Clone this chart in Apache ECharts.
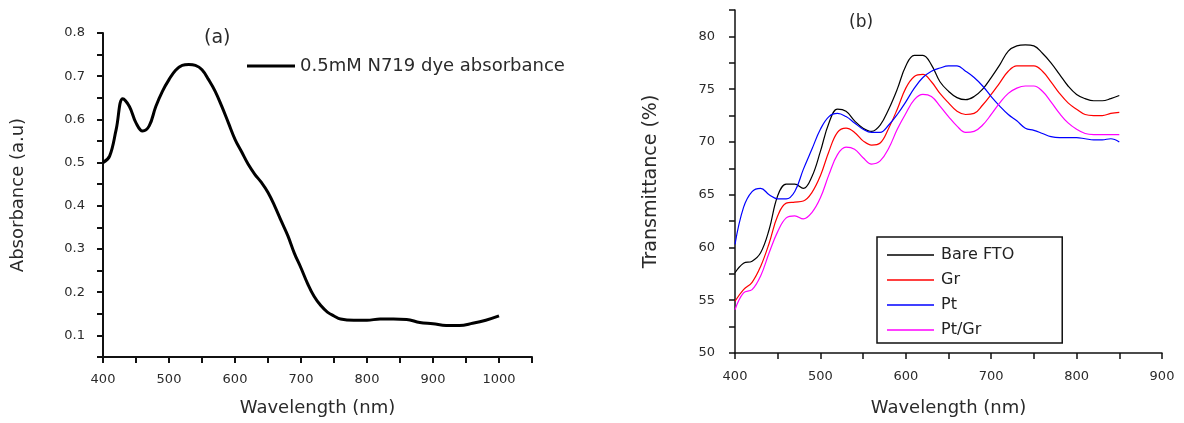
<!DOCTYPE html>
<html>
<head>
<meta charset="utf-8">
<script src="https://cdn.jsdelivr.net/npm/echarts@6/dist/echarts.min.js"></script>
<style>
  body { margin: 0; background: #fff; }
  #chart { width: 1184px; height: 423px; }
</style>
</head>
<body>
<div id="chart"></div>
<script>
// (a) dye absorbance
const wavelengthA = [400,410,420,430,440,450,460,470,480,490,500,510,520,530,540,550,560,570,580,590,600,610,620,630,640,650,660,670,680,690,700,710,720,730,740,750,760,780,800,820,840,860,880,900,920,940,960,980,1000];
const absorbance = [0.50,0.515,0.577,0.648,0.63,0.592,0.573,0.585,0.63,0.665,0.692,0.714,0.725,0.727,0.725,0.715,0.692,0.665,0.63,0.592,0.554,0.525,0.496,0.473,0.454,0.431,0.40,0.365,0.331,0.29,0.256,0.22,0.19,0.169,0.154,0.145,0.138,0.135,0.135,0.138,0.138,0.137,0.13,0.127,0.123,0.123,0.128,0.135,0.145];

// (b) transmittance, 400..850 nm every 10 nm
const wavelengthB = [400,410,420,430,440,450,460,470,480,490,500,510,520,530,540,550,560,570,580,590,600,610,620,630,640,650,660,670,680,690,700,710,720,730,740,750,760,770,780,790,800,810,820,830,840,850];
const bareFto = [57.6,58.5,58.7,59.5,61.7,64.9,66.0,66.0,65.6,66.7,69.1,71.8,73.1,72.9,72.0,71.3,71.0,71.6,73.1,75.0,77.2,78.2,78.2,77.3,75.7,74.8,74.2,74.0,74.3,75.0,76.1,77.3,78.6,79.1,79.2,79.1,78.4,77.5,76.4,75.3,74.5,74.1,73.9,73.9,74.1,74.4];
const gr = [54.9,56.0,56.7,58.2,60.4,63.0,64.2,64.3,64.4,65.2,66.8,69.1,70.9,71.3,70.9,70.1,69.7,69.9,71.3,73.1,75.1,76.2,76.4,75.7,74.6,73.7,72.9,72.6,72.7,73.5,74.5,75.6,76.7,77.2,77.2,77.2,76.7,75.7,74.6,73.7,73.1,72.6,72.5,72.5,72.7,72.8];
const pt = [60.3,63.8,65.3,65.6,65.0,64.6,64.6,65.3,67.4,69.3,71.2,72.4,72.7,72.4,71.8,71.2,70.9,70.9,71.6,72.6,73.8,75.1,76.1,76.7,77.0,77.2,77.2,76.7,76.1,75.3,74.3,73.4,72.6,72.0,71.3,71.1,70.8,70.5,70.4,70.4,70.4,70.3,70.2,70.2,70.3,70.0];
const ptGr = [54.1,55.7,56.0,57.3,59.5,61.5,62.8,63.0,62.7,63.3,64.7,66.9,68.8,69.5,69.3,68.5,67.9,68.2,69.4,71.2,72.7,74.0,74.5,74.3,73.4,72.4,71.5,70.9,71.0,71.6,72.6,73.7,74.6,75.1,75.3,75.3,74.8,73.8,72.7,71.8,71.2,70.8,70.7,70.7,70.7,70.7];

const font = 'DejaVu Sans, Liberation Sans, sans-serif';
const ink = '#2a2a2a';
const zip = (xs, ys) => xs.map((x, i) => [x, ys[i]]);

function axisBase(w, minor) {
  return {
    axisLine: { show: true, lineStyle: { color: '#111', width: w } },
    axisTick: { show: true, length: 6, lineStyle: { color: '#111', width: w } },
    minorTick: { show: minor, splitNumber: 2, length: 6, lineStyle: { color: '#111', width: w } },
    splitLine: { show: false },
    axisLabel: { color: ink, fontFamily: font, fontSize: 13, margin: 17, formatter: v => String(v) },
    nameTextStyle: { color: ink, fontFamily: font, fontSize: 18 },
    nameLocation: 'middle'
  };
}

const chart = echarts.init(document.getElementById('chart'));
chart.setOption({
  animation: false,
  title: [
    { text: '(a)', left: 199, top: 24, textStyle: { fontFamily: font, fontSize: 19, fontWeight: 'normal', color: ink } },
    { text: '(b)', left: 844, top: 9, textStyle: { fontFamily: font, fontSize: 17, fontWeight: 'normal', color: ink } }
  ],
  legend: [
    {
      data: ['0.5mM N719 dye absorbance'],
      left: 242, top: 52,
      icon: 'rect', itemWidth: 48, itemHeight: 3, itemGap: 0,
      textStyle: { fontFamily: font, fontSize: 18, color: ink, padding: [0, 0, 0, 0] }
    },
    {
      data: ['Bare FTO', 'Gr', 'Pt', 'Pt/Gr'],
      orient: 'vertical',
      left: 877, top: 237,
      padding: [10, 48, 5, 10],
      icon: 'rect', itemGap: 9, itemWidth: 47, itemHeight: 1.5,
      borderColor: '#111', borderWidth: 1.5,
      textStyle: { fontFamily: font, fontSize: 16, color: '#222', padding: [0, 0, 0, 2] }
    }
  ],
  grid: [
    { left: 103, top: 33, width: 429, height: 324 },
    { left: 735, top: 10, width: 427, height: 343 }
  ],
  xAxis: [
    Object.assign(axisBase(2, true), {
      gridIndex: 0, type: 'value', min: 400, max: 1050, interval: 100,
      name: 'Wavelength (nm)', nameGap: 42,
      axisLabel: Object.assign(axisBase(2, true).axisLabel, { showMaxLabel: false, margin: 16 })
    }),
    Object.assign(axisBase(1.5, true), {
      gridIndex: 1, type: 'value', min: 400, max: 900, interval: 100,
      name: 'Wavelength (nm)', nameGap: 46,
      axisLabel: Object.assign(axisBase(1.5, true).axisLabel, { margin: 17 })
    })
  ],
  yAxis: [
    Object.assign(axisBase(2, false), {
      gridIndex: 0, type: 'value', min: 0.05, max: 0.8, interval: 0.05,
      name: 'Absorbance (a.u)', nameGap: 76,
      axisLabel: Object.assign(axisBase(2, false).axisLabel, {
        margin: 18,
        formatter: v => (Math.round(v * 100) % 10 === 0 ? v.toFixed(1) : '')
      })
    }),
    Object.assign(axisBase(1.5, true), {
      gridIndex: 1, type: 'value', min: 50, max: 82.5, interval: 5,
      name: 'Transmittance (%)', nameGap: 74,
      nameTextStyle: { color: ink, fontFamily: font, fontSize: 19 },
      axisLabel: Object.assign(axisBase(1.5, true).axisLabel, { showMaxLabel: false, margin: 20 })
    })
  ],
  series: [
    { name: '0.5mM N719 dye absorbance', type: 'line', xAxisIndex: 0, yAxisIndex: 0, symbol: 'none', smooth: 0.4,
      color: '#000', lineStyle: { width: 3, color: '#000' }, data: zip(wavelengthA, absorbance) },
    { name: 'Bare FTO', type: 'line', xAxisIndex: 1, yAxisIndex: 1, symbol: 'none', smooth: 0.4,
      color: '#000', lineStyle: { width: 1.2, color: '#000' }, data: zip(wavelengthB, bareFto) },
    { name: 'Gr', type: 'line', xAxisIndex: 1, yAxisIndex: 1, symbol: 'none', smooth: 0.4,
      color: '#ff0000', lineStyle: { width: 1.2, color: '#ff0000' }, data: zip(wavelengthB, gr) },
    { name: 'Pt', type: 'line', xAxisIndex: 1, yAxisIndex: 1, symbol: 'none', smooth: 0.4,
      color: '#0000ff', lineStyle: { width: 1.2, color: '#0000ff' }, data: zip(wavelengthB, pt) },
    { name: 'Pt/Gr', type: 'line', xAxisIndex: 1, yAxisIndex: 1, symbol: 'none', smooth: 0.4,
      color: '#ff00ff', lineStyle: { width: 1.2, color: '#ff00ff' }, data: zip(wavelengthB, ptGr) }
  ]
});
</script>
</body>
</html>
